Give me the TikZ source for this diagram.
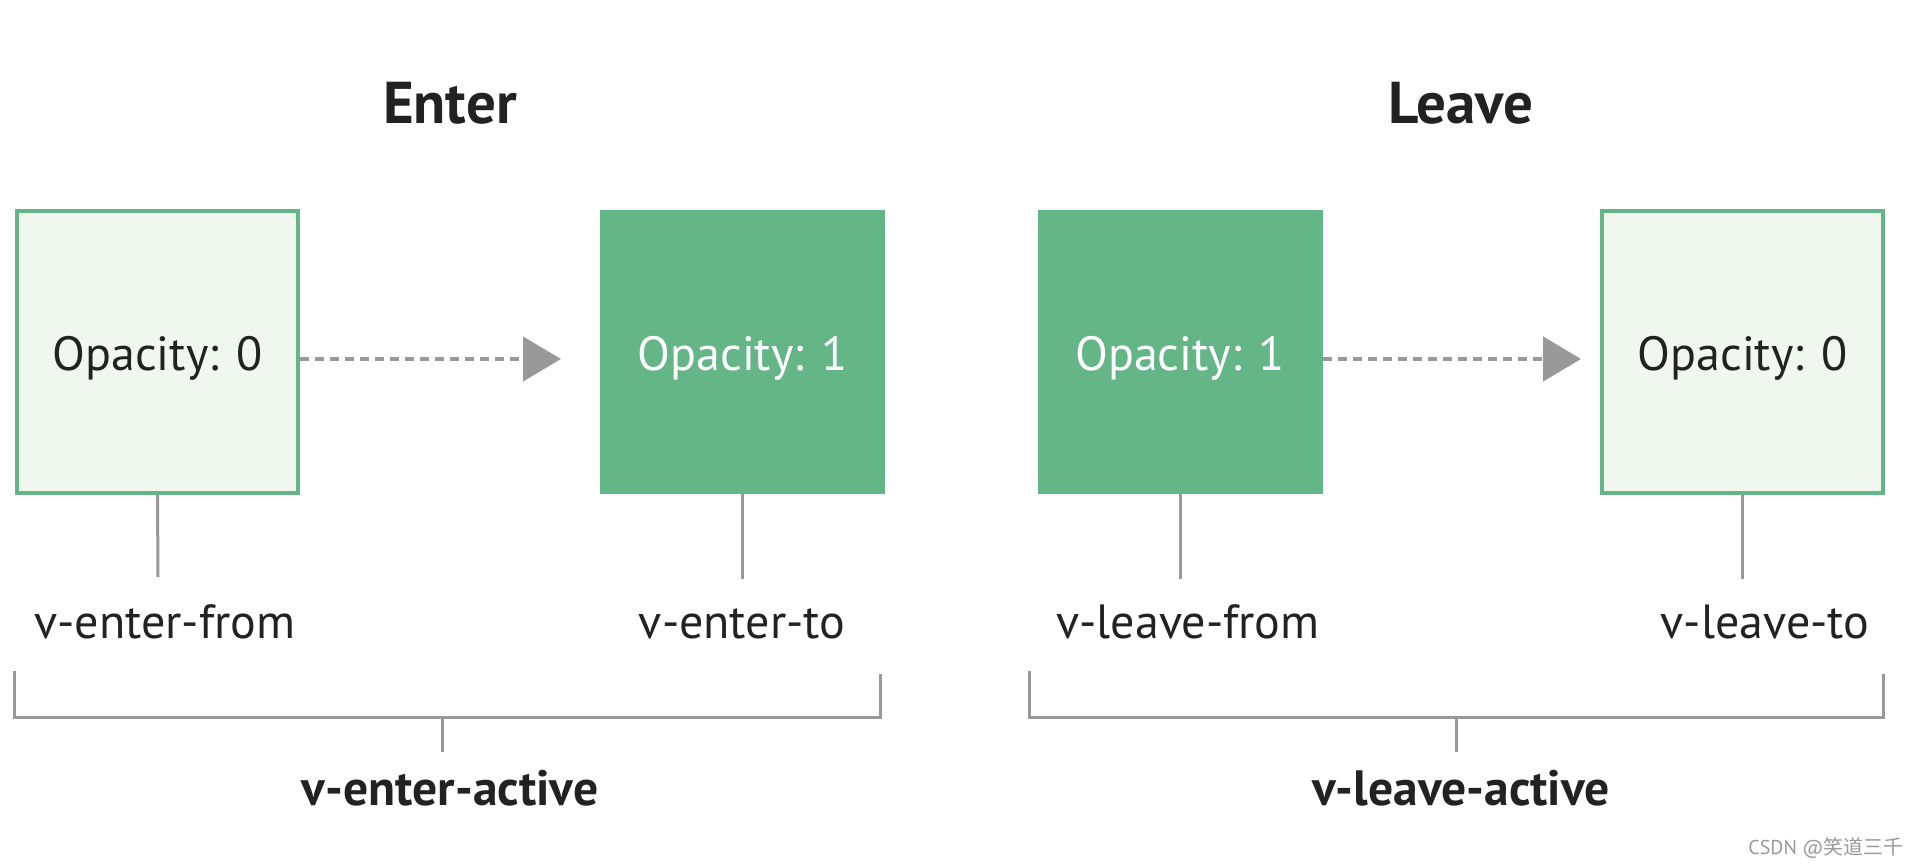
\documentclass[tikz,border=0pt]{standalone}
\usepackage{fontspec}
\setmainfont{PT Sans}
\newfontfamily\cjkfont{Noto Sans CJK SC}
\usetikzlibrary{arrows.meta}
\definecolor{vgreen}{HTML}{64B687}
\definecolor{vlight}{HTML}{EFF7EE}
\definecolor{vgray}{HTML}{999999}
\definecolor{vtext}{HTML}{222222}
\tikzset{
  x=0.5pt, y=-0.5pt,
  lightbox/.style={draw=vgreen, fill=vlight, line width=2pt, minimum width=140.5pt, minimum height=141pt,
    inner sep=0pt, text=vtext, font=\fontsize{24}{28}\selectfont, text height=18pt, text depth=0pt},
  solidbox/.style={fill=vgreen, minimum width=142.5pt, minimum height=142pt,
    inner sep=0pt, text=white, font=\fontsize{24}{28}\selectfont, text height=18pt, text depth=0pt},
  flowarrow/.style={draw=vgray, line width=2.2pt, dash pattern=on 4.5pt off 3pt, -{Triangle[length=19pt,width=22pt,fill=vgray]}},
  tickline/.style={draw=vgray, line width=1.5pt},
  brace/.style={draw=vgray, line width=1.5pt},
  statelabel/.style={anchor=base, inner sep=0pt, text=vtext, font=\fontsize{24}{28}\selectfont},
  activelabel/.style={anchor=base, inner sep=0pt, text=vtext, font=\fontsize{24.8}{28}\selectfont\bfseries},
  title/.style={anchor=base, inner sep=0pt, text=vtext, font=\fontsize{29.5}{32}\selectfont\bfseries},
}
\begin{document}
\begin{tikzpicture}
\useasboundingbox[fill=white] (0,0) rectangle (1920,866);

% titles
\node[title] (tenter) at (450,124) {Enter};
\node[title] (tleave) at (1461,124) {Leave};

% boxes
\node[lightbox] (b1) at (157.5,352) {Opacity: 0};
\node[solidbox] (b2) at (742.5,352) {Opacity: 1};
\node[solidbox] (b3) at (1180,352) {Opacity: 1};
\node[lightbox] (b4) at (1742.5,352) {Opacity: 0};

% arrows
\coordinate (a1) at (561,359);
\coordinate (a2) at (1581,359);
\draw[flowarrow] (b1.east |- a1) -- (a1);
\draw[flowarrow] (b3.east |- a2) -- (a2);

% ticks
\coordinate (t1) at (158,577);
\coordinate (t2) at (742.5,579);
\coordinate (t3) at (1180,579);
\coordinate (t4) at (1742.5,579);
\draw[tickline] (b1.south) -- (t1);
\draw[tickline] (b2.south) -- (t2);
\draw[tickline] (b3.south) -- (t3);
\draw[tickline] (b4.south) -- (t4);

% state labels
\node[statelabel] (l1) at (165,638) {v-enter-from};
\node[statelabel] (l2) at (742,638) {v-enter-to};
\node[statelabel] (l3) at (1188,638) {v-leave-from};
\node[statelabel] (l4) at (1765,638) {v-leave-to};

% brackets
\coordinate (e1) at (14,671);
\coordinate (e2) at (14,717);
\coordinate (e3) at (880,717);
\coordinate (e4) at (880,674);
\coordinate (em) at (442,717);
\coordinate (emb) at (442,752);
\draw[brace] (e1) -- (e2) -- (e3) -- (e4);
\draw[brace] (em) -- (emb);

\coordinate (f1) at (1029,671);
\coordinate (f2) at (1029,717);
\coordinate (f3) at (1883,717);
\coordinate (f4) at (1883,674);
\coordinate (fm) at (1456,717);
\coordinate (fmb) at (1456,752);
\draw[brace] (f1) -- (f2) -- (f3) -- (f4);
\draw[brace] (fm) -- (fmb);

% active labels
\node[activelabel] (ea) at (450,805) {v-enter-active};
\node[activelabel] (la) at (1461,805) {v-leave-active};

% watermark
\node[anchor=base east, inner sep=0pt, text=vgray, font=\fontsize{10}{12}\selectfont] (wm) at (1904,854) {CSDN @{\cjkfont 笑道三千}};
\end{tikzpicture}
\end{document}
